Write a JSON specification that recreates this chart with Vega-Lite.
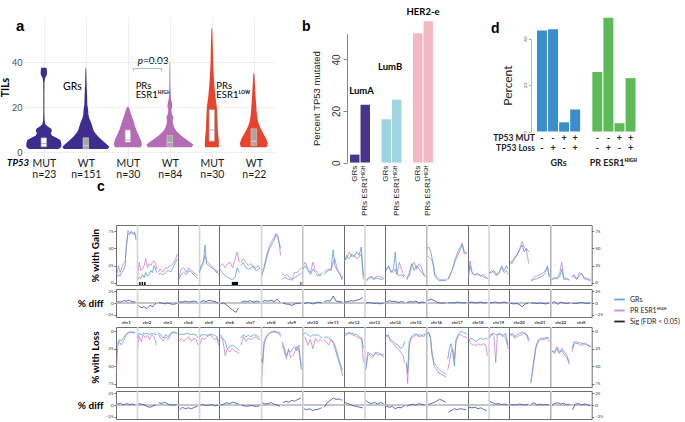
{
"$schema":"https://vega.github.io/schema/vega-lite/v6.json",
"background":"white",
"padding":{"left":0,"top":7,"right":2,"bottom":2},
"config":{"font":"Lato","view":{"stroke":null}},
"datasets":{
"vio":[
{"g":"GRs MUT","y":1.5,"w":30},{"g":"GRs MUT","y":2.5,"w":35},{"g":"GRs MUT","y":4,"w":35},{"g":"GRs MUT","y":5.5,"w":33},{"g":"GRs MUT","y":6.5,"w":25},{"g":"GRs MUT","y":7.5,"w":16},{"g":"GRs MUT","y":8.5,"w":14},{"g":"GRs MUT","y":9.5,"w":16},{"g":"GRs MUT","y":10.5,"w":15},{"g":"GRs MUT","y":11.5,"w":8},{"g":"GRs MUT","y":12.5,"w":3},{"g":"GRs MUT","y":14,"w":1.5},{"g":"GRs MUT","y":18,"w":1},{"g":"GRs MUT","y":25,"w":1},{"g":"GRs MUT","y":31,"w":1.2},{"g":"GRs MUT","y":33,"w":2.5},{"g":"GRs MUT","y":34,"w":5},{"g":"GRs MUT","y":35,"w":6.5},{"g":"GRs MUT","y":36.5,"w":6},{"g":"GRs MUT","y":37.5,"w":5},
{"g":"GRs WT","y":1.5,"w":44},{"g":"GRs WT","y":2.5,"w":47},{"g":"GRs WT","y":4,"w":40},{"g":"GRs WT","y":5.5,"w":32},{"g":"GRs WT","y":7,"w":25},{"g":"GRs WT","y":8.5,"w":19},{"g":"GRs WT","y":10,"w":15},{"g":"GRs WT","y":11.5,"w":13},{"g":"GRs WT","y":13,"w":11},{"g":"GRs WT","y":15,"w":7},{"g":"GRs WT","y":17,"w":5},{"g":"GRs WT","y":19,"w":4.5},{"g":"GRs WT","y":21,"w":3},{"g":"GRs WT","y":25,"w":2.5},{"g":"GRs WT","y":30,"w":1.5},{"g":"GRs WT","y":35,"w":1},{"g":"GRs WT","y":37.5,"w":0.5},
{"g":"PRH MUT","y":2.3,"w":26},{"g":"PRH MUT","y":3.5,"w":28},{"g":"PRH MUT","y":5,"w":27},{"g":"PRH MUT","y":6.5,"w":24},{"g":"PRH MUT","y":8,"w":21},{"g":"PRH MUT","y":10,"w":17},{"g":"PRH MUT","y":12,"w":14},{"g":"PRH MUT","y":14,"w":11},{"g":"PRH MUT","y":16,"w":8},{"g":"PRH MUT","y":18,"w":5},{"g":"PRH MUT","y":19.5,"w":3},{"g":"PRH MUT","y":20.3,"w":1},
{"g":"PRH WT","y":2.3,"w":44},{"g":"PRH WT","y":3.5,"w":47},{"g":"PRH WT","y":5,"w":38},{"g":"PRH WT","y":6.5,"w":28},{"g":"PRH WT","y":8,"w":20},{"g":"PRH WT","y":9.5,"w":13},{"g":"PRH WT","y":11,"w":9},{"g":"PRH WT","y":13,"w":6},{"g":"PRH WT","y":14.5,"w":6},{"g":"PRH WT","y":15.5,"w":7},{"g":"PRH WT","y":17,"w":4},{"g":"PRH WT","y":19,"w":3},{"g":"PRH WT","y":20.5,"w":5},{"g":"PRH WT","y":22,"w":4},{"g":"PRH WT","y":24,"w":2},{"g":"PRH WT","y":28,"w":1.2},{"g":"PRH WT","y":34,"w":0.8},{"g":"PRH WT","y":40,"w":0.5},
{"g":"PRL MUT","y":2.3,"w":14},{"g":"PRL MUT","y":5,"w":14},{"g":"PRL MUT","y":10,"w":12},{"g":"PRL MUT","y":15,"w":11},{"g":"PRL MUT","y":20,"w":10},{"g":"PRL MUT","y":25,"w":7},{"g":"PRL MUT","y":30,"w":5},{"g":"PRL MUT","y":35,"w":3.5},{"g":"PRL MUT","y":40,"w":2.5},{"g":"PRL MUT","y":47,"w":2},{"g":"PRL MUT","y":52,"w":1.2},{"g":"PRL MUT","y":55,"w":0.8},
{"g":"PRL WT","y":2.3,"w":26},{"g":"PRL WT","y":4,"w":28},{"g":"PRL WT","y":6,"w":25},{"g":"PRL WT","y":8,"w":20},{"g":"PRL WT","y":10,"w":15},{"g":"PRL WT","y":12,"w":11},{"g":"PRL WT","y":14,"w":8},{"g":"PRL WT","y":17,"w":6},{"g":"PRL WT","y":20,"w":5},{"g":"PRL WT","y":23,"w":4},{"g":"PRL WT","y":27,"w":3},{"g":"PRL WT","y":31,"w":2},{"g":"PRL WT","y":35,"w":1}
],
"box":[
{"g":"GRs MUT","q1":2.5,"med":4,"q3":6.5},{"g":"GRs WT","q1":1.5,"med":3,"q3":6.5},{"g":"PRH MUT","q1":4.5,"med":5.5,"q3":10},{"g":"PRH WT","q1":2.5,"med":4.5,"q3":7.5},{"g":"PRL MUT","q1":5,"med":10,"q3":19},{"g":"PRL WT","q1":3,"med":5,"q3":10.5}
],
"pb":[
{"key":"LumA GRs","sub":"LumA","grp":"GRs","v":3.1},{"key":"LumA PRs","sub":"LumA","grp":"PRs ESR1ᴴᴵᴳᴴ","v":22.4},{"key":"LumB GRs","sub":"LumB","grp":"GRs","v":16.8},{"key":"LumB PRs","sub":"LumB","grp":"PRs ESR1ᴴᴵᴳᴴ","v":24.4},{"key":"HER2 GRs","sub":"HER2-e","grp":"GRs","v":50.1},{"key":"HER2 PRs","sub":"HER2-e","grp":"PRs ESR1ᴴᴵᴳᴴ","v":54.8}
],
"pd":[
{"key":"GRs --","grp":"GRs","mut":"-","loss":"-","v":43.5},{"key":"GRs -+","grp":"GRs","mut":"-","loss":"+","v":44},{"key":"GRs +-","grp":"GRs","mut":"+","loss":"-","v":4},{"key":"GRs ++","grp":"GRs","mut":"+","loss":"+","v":9.5},
{"key":"PR --","grp":"PR ESR1ᴴᴵᴳᴴ","mut":"-","loss":"-","v":25.6},{"key":"PR -+","grp":"PR ESR1ᴴᴵᴳᴴ","mut":"-","loss":"+","v":49},{"key":"PR +-","grp":"PR ESR1ᴴᴵᴳᴴ","mut":"+","loss":"-","v":3.6},{"key":"PR ++","grp":"PR ESR1ᴴᴵᴳᴴ","mut":"+","loss":"+","v":23}
],
"gain":[
{"c":1,"x":0.04,"g":8,"p":12},{"c":1,"x":0.12,"g":12,"p":25},{"c":1,"x":0.2,"g":10,"p":15},{"c":1,"x":0.28,"g":15,"p":22},{"c":1,"x":0.36,"g":18,"p":28},{"c":1,"x":0.44,"g":25,"p":30},{"c":1,"x":0.5,"g":55,"p":50},{"c":1,"x":0.58,"g":72,"p":76},{"c":1,"x":0.66,"g":70,"p":72},{"c":1,"x":0.74,"g":75,"p":74},{"c":1,"x":0.82,"g":72,"p":70},{"c":1,"x":0.9,"g":74,"p":72},{"c":1,"x":0.97,"g":62,"p":66},
{"c":2,"x":1.04,"g":5,"p":8},{"c":2,"x":1.12,"g":8,"p":30},{"c":2,"x":1.2,"g":6,"p":18},{"c":2,"x":1.28,"g":12,"p":20},{"c":2,"x":1.36,"g":8,"p":25},{"c":2,"x":1.44,"g":15,"p":35},{"c":2,"x":1.52,"g":10,"p":22},{"c":2,"x":1.6,"g":12,"p":28},{"c":2,"x":1.68,"g":18,"p":25},{"c":2,"x":1.76,"g":15,"p":30},{"c":2,"x":1.84,"g":25,"p":32},{"c":2,"x":1.92,"g":20,"p":28},{"c":2,"x":1.97,"g":15,"p":20},
{"c":3,"x":2.04,"g":12,"p":15},{"c":3,"x":2.15,"g":14,"p":20},{"c":3,"x":2.28,"g":12,"p":16},{"c":3,"x":2.4,"g":15,"p":22},{"c":3,"x":2.52,"g":18,"p":22},{"c":3,"x":2.64,"g":16,"p":25},{"c":3,"x":2.76,"g":22,"p":28},{"c":3,"x":2.88,"g":30,"p":35},{"c":3,"x":2.96,"g":35,"p":42},
{"c":4,"x":3.04,"g":5,"p":8},{"c":4,"x":3.15,"g":12,"p":20},{"c":4,"x":3.28,"g":15,"p":22},{"c":4,"x":3.4,"g":12,"p":15},{"c":4,"x":3.52,"g":18,"p":22},{"c":4,"x":3.64,"g":16,"p":18},{"c":4,"x":3.76,"g":12,"p":15},{"c":4,"x":3.88,"g":8,"p":12},{"c":4,"x":3.96,"g":6,"p":10},
{"c":5,"x":4.04,"g":15,"p":18},{"c":5,"x":4.12,"g":25,"p":22},{"c":5,"x":4.22,"g":30,"p":28},{"c":5,"x":4.3,"g":55,"p":40},{"c":5,"x":4.38,"g":28,"p":32},{"c":5,"x":4.5,"g":25,"p":28},{"c":5,"x":4.62,"g":22,"p":25},{"c":5,"x":4.74,"g":20,"p":20},{"c":5,"x":4.86,"g":15,"p":18},{"c":5,"x":4.96,"g":18,"p":12},
{"c":6,"x":5.04,"g":20,"p":25},{"c":6,"x":5.15,"g":15,"p":28},{"c":6,"x":5.28,"g":10,"p":22},{"c":6,"x":5.4,"g":8,"p":28},{"c":6,"x":5.52,"g":6,"p":30},{"c":6,"x":5.64,"g":5,"p":22},{"c":6,"x":5.76,"g":8,"p":35},{"c":6,"x":5.86,"g":22,"p":45},{"c":6,"x":5.96,"g":15,"p":30},
{"c":7,"x":6.04,"g":25,"p":30},{"c":7,"x":6.15,"g":30,"p":35},{"c":7,"x":6.28,"g":22,"p":30},{"c":7,"x":6.4,"g":20,"p":25},{"c":7,"x":6.52,"g":22,"p":28},{"c":7,"x":6.64,"g":25,"p":22},{"c":7,"x":6.76,"g":18,"p":22},{"c":7,"x":6.88,"g":20,"p":25},{"c":7,"x":6.96,"g":22,"p":20},
{"c":8,"x":7.04,"g":12,"p":10},{"c":8,"x":7.15,"g":20,"p":22},{"c":8,"x":7.28,"g":35,"p":40},{"c":8,"x":7.4,"g":48,"p":52},{"c":8,"x":7.52,"g":55,"p":60},{"c":8,"x":7.64,"g":62,"p":66},{"c":8,"x":7.74,"g":70,"p":72},{"c":8,"x":7.84,"g":64,"p":68},{"c":8,"x":7.96,"g":50,"p":40},
{"c":9,"x":8.04,"g":5,"p":15},{"c":9,"x":8.15,"g":8,"p":10},{"c":9,"x":8.28,"g":6,"p":12},{"c":9,"x":8.4,"g":5,"p":8},{"c":9,"x":8.52,"g":4,"p":6},{"c":9,"x":8.64,"g":8,"p":15},{"c":9,"x":8.76,"g":10,"p":15},{"c":9,"x":8.88,"g":12,"p":20},{"c":9,"x":8.96,"g":15,"p":22},
{"c":10,"x":9.04,"g":20,"p":25},{"c":10,"x":9.15,"g":25,"p":30},{"c":10,"x":9.28,"g":18,"p":20},{"c":10,"x":9.4,"g":12,"p":15},{"c":10,"x":9.52,"g":20,"p":30},{"c":10,"x":9.64,"g":15,"p":18},{"c":10,"x":9.76,"g":10,"p":15},{"c":10,"x":9.88,"g":12,"p":10},{"c":10,"x":9.96,"g":15,"p":12},
{"c":11,"x":10.04,"g":12,"p":15},{"c":11,"x":10.15,"g":15,"p":18},{"c":11,"x":10.28,"g":18,"p":20},{"c":11,"x":10.4,"g":20,"p":18},{"c":11,"x":10.5,"g":48,"p":30},{"c":11,"x":10.58,"g":25,"p":35},{"c":11,"x":10.7,"g":18,"p":20},{"c":11,"x":10.82,"g":12,"p":15},{"c":11,"x":10.92,"g":8,"p":5},{"c":11,"x":10.97,"g":10,"p":8},
{"c":12,"x":11.04,"g":30,"p":35},{"c":12,"x":11.15,"g":40,"p":35},{"c":12,"x":11.28,"g":35,"p":45},{"c":12,"x":11.4,"g":42,"p":38},{"c":12,"x":11.52,"g":38,"p":40},{"c":12,"x":11.64,"g":45,"p":35},{"c":12,"x":11.76,"g":40,"p":38},{"c":12,"x":11.86,"g":52,"p":42},{"c":12,"x":11.96,"g":10,"p":5},
{"c":13,"x":12.1,"g":3,"p":4},{"c":13,"x":12.22,"g":6,"p":8},{"c":13,"x":12.34,"g":8,"p":10},{"c":13,"x":12.46,"g":5,"p":6},{"c":13,"x":12.58,"g":7,"p":9},{"c":13,"x":12.7,"g":6,"p":10},{"c":13,"x":12.82,"g":5,"p":8},{"c":13,"x":12.94,"g":6,"p":7},
{"c":14,"x":13.06,"g":18,"p":20},{"c":14,"x":13.18,"g":25,"p":22},{"c":14,"x":13.3,"g":15,"p":18},{"c":14,"x":13.42,"g":20,"p":15},{"c":14,"x":13.5,"g":45,"p":20},{"c":14,"x":13.58,"g":15,"p":12},{"c":14,"x":13.7,"g":10,"p":30},{"c":14,"x":13.82,"g":12,"p":18},{"c":14,"x":13.94,"g":8,"p":10},
{"c":15,"x":14.06,"g":5,"p":5},{"c":15,"x":14.18,"g":15,"p":10},{"c":15,"x":14.3,"g":28,"p":25},{"c":15,"x":14.42,"g":18,"p":30},{"c":15,"x":14.54,"g":25,"p":20},{"c":15,"x":14.66,"g":20,"p":28},{"c":15,"x":14.78,"g":15,"p":22},{"c":15,"x":14.9,"g":12,"p":10},{"c":15,"x":14.97,"g":10,"p":8},
{"c":16,"x":15.04,"g":50,"p":40},{"c":16,"x":15.12,"g":52,"p":38},{"c":16,"x":15.22,"g":45,"p":35},{"c":16,"x":15.32,"g":30,"p":30},{"c":16,"x":15.42,"g":10,"p":12},{"c":16,"x":15.54,"g":5,"p":8},{"c":16,"x":15.66,"g":3,"p":5},{"c":16,"x":15.78,"g":4,"p":4},{"c":16,"x":15.9,"g":3,"p":5},{"c":16,"x":15.97,"g":4,"p":6},
{"c":17,"x":16.04,"g":5,"p":5},{"c":17,"x":16.15,"g":12,"p":10},{"c":17,"x":16.28,"g":20,"p":22},{"c":17,"x":16.4,"g":32,"p":35},{"c":17,"x":16.52,"g":40,"p":45},{"c":17,"x":16.64,"g":48,"p":52},{"c":17,"x":16.74,"g":55,"p":58},{"c":17,"x":16.84,"g":42,"p":46},{"c":17,"x":16.96,"g":45,"p":42},
{"c":18,"x":17.04,"g":10,"p":8},{"c":18,"x":17.12,"g":25,"p":32},{"c":18,"x":17.22,"g":15,"p":14},{"c":18,"x":17.34,"g":12,"p":12},{"c":18,"x":17.48,"g":14,"p":12},{"c":18,"x":17.62,"g":10,"p":11},{"c":18,"x":17.76,"g":12,"p":9},{"c":18,"x":17.9,"g":8,"p":7},{"c":18,"x":17.97,"g":7,"p":6},
{"c":19,"x":18.04,"g":15,"p":12},{"c":19,"x":18.15,"g":15,"p":18},{"c":19,"x":18.28,"g":18,"p":15},{"c":19,"x":18.4,"g":12,"p":10},{"c":19,"x":18.52,"g":14,"p":16},{"c":19,"x":18.64,"g":25,"p":22},{"c":19,"x":18.76,"g":18,"p":15},{"c":19,"x":18.88,"g":25,"p":18},{"c":19,"x":18.96,"g":20,"p":12},
{"c":20,"x":19.04,"g":28,"p":30},{"c":20,"x":19.15,"g":32,"p":28},{"c":20,"x":19.28,"g":35,"p":38},{"c":20,"x":19.4,"g":42,"p":40},{"c":20,"x":19.52,"g":48,"p":50},{"c":20,"x":19.64,"g":55,"p":60},{"c":20,"x":19.74,"g":45,"p":52},{"c":20,"x":19.84,"g":50,"p":48},{"c":20,"x":19.96,"g":45,"p":28},
{"c":21,"x":20.06,"g":3,"p":4},{"c":21,"x":20.2,"g":5,"p":8},{"c":21,"x":20.34,"g":6,"p":10},{"c":21,"x":20.48,"g":8,"p":12},{"c":21,"x":20.62,"g":10,"p":14},{"c":21,"x":20.76,"g":15,"p":18},{"c":21,"x":20.86,"g":25,"p":22},{"c":21,"x":20.95,"g":8,"p":10},
{"c":22,"x":21.06,"g":5,"p":5},{"c":22,"x":21.2,"g":8,"p":6},{"c":22,"x":21.34,"g":6,"p":8},{"c":22,"x":21.46,"g":10,"p":15},{"c":22,"x":21.55,"g":20,"p":30},{"c":22,"x":21.65,"g":5,"p":8},{"c":22,"x":21.78,"g":6,"p":6},{"c":22,"x":21.92,"g":4,"p":5},
{"c":23,"x":22.04,"g":8,"p":10},{"c":23,"x":22.15,"g":12,"p":8},{"c":23,"x":22.28,"g":5,"p":6},{"c":23,"x":22.4,"g":10,"p":15},{"c":23,"x":22.52,"g":14,"p":12},{"c":23,"x":22.64,"g":6,"p":8},{"c":23,"x":22.76,"g":5,"p":6},{"c":23,"x":22.88,"g":4,"p":6},{"c":23,"x":22.96,"g":3,"p":5}
],
"loss":[
{"c":1,"x":0.02,"g":20,"p":60},{"c":1,"x":0.08,"g":18,"p":22},{"c":1,"x":0.16,"g":12,"p":15},{"c":1,"x":0.26,"g":14,"p":20},{"c":1,"x":0.36,"g":10,"p":14},{"c":1,"x":0.46,"g":5,"p":8},{"c":1,"x":0.56,"g":2,"p":3},{"c":1,"x":0.68,"g":1,"p":2},{"c":1,"x":0.8,"g":1,"p":2},{"c":1,"x":0.92,"g":2,"p":3},
{"c":2,"x":1.04,"g":10,"p":25},{"c":2,"x":1.12,"g":3,"p":8},{"c":2,"x":1.22,"g":5,"p":15},{"c":2,"x":1.32,"g":3,"p":5},{"c":2,"x":1.42,"g":4,"p":10},{"c":2,"x":1.52,"g":3,"p":6},{"c":2,"x":1.62,"g":5,"p":12},{"c":2,"x":1.72,"g":3,"p":5},{"c":2,"x":1.84,"g":4,"p":8},{"c":2,"x":1.96,"g":5,"p":20},
{"c":3,"x":2.04,"g":2,"p":4},{"c":3,"x":2.16,"g":5,"p":10},{"c":3,"x":2.28,"g":10,"p":14},{"c":3,"x":2.4,"g":5,"p":8},{"c":3,"x":2.52,"g":8,"p":12},{"c":3,"x":2.64,"g":3,"p":5},{"c":3,"x":2.76,"g":1,"p":2},{"c":3,"x":2.88,"g":2,"p":3},{"c":3,"x":2.96,"g":3,"p":4},
{"c":4,"x":3.04,"g":5,"p":15},{"c":4,"x":3.16,"g":4,"p":10},{"c":4,"x":3.28,"g":5,"p":14},{"c":4,"x":3.4,"g":3,"p":12},{"c":4,"x":3.52,"g":4,"p":8},{"c":4,"x":3.64,"g":5,"p":15},{"c":4,"x":3.76,"g":4,"p":10},{"c":4,"x":3.88,"g":6,"p":12},{"c":4,"x":3.96,"g":10,"p":20},
{"c":5,"x":4.04,"g":8,"p":20},{"c":5,"x":4.16,"g":5,"p":10},{"c":5,"x":4.28,"g":5,"p":12},{"c":5,"x":4.4,"g":6,"p":8},{"c":5,"x":4.52,"g":5,"p":6},{"c":5,"x":4.64,"g":4,"p":7},{"c":5,"x":4.76,"g":6,"p":12},{"c":5,"x":4.88,"g":8,"p":10},{"c":5,"x":4.96,"g":15,"p":20},
{"c":6,"x":5.04,"g":5,"p":8},{"c":6,"x":5.16,"g":10,"p":12},{"c":6,"x":5.28,"g":15,"p":35},{"c":6,"x":5.38,"g":25,"p":25},{"c":6,"x":5.5,"g":22,"p":30},{"c":6,"x":5.62,"g":20,"p":25},{"c":6,"x":5.74,"g":22,"p":28},{"c":6,"x":5.86,"g":25,"p":30},{"c":6,"x":5.96,"g":28,"p":32},
{"c":7,"x":6.04,"g":10,"p":20},{"c":7,"x":6.16,"g":5,"p":8},{"c":7,"x":6.28,"g":8,"p":15},{"c":7,"x":6.4,"g":6,"p":10},{"c":7,"x":6.52,"g":8,"p":12},{"c":7,"x":6.64,"g":5,"p":10},{"c":7,"x":6.76,"g":6,"p":8},{"c":7,"x":6.88,"g":8,"p":12},{"c":7,"x":6.96,"g":10,"p":12},
{"c":8,"x":7.03,"g":40,"p":75},{"c":8,"x":7.08,"g":45,"p":55},{"c":8,"x":7.16,"g":15,"p":20},{"c":8,"x":7.26,"g":8,"p":10},{"c":8,"x":7.36,"g":4,"p":5},{"c":8,"x":7.5,"g":1,"p":2},{"c":8,"x":7.64,"g":0,"p":1},{"c":8,"x":7.78,"g":1,"p":2},{"c":8,"x":7.9,"g":2,"p":4},{"c":8,"x":7.97,"g":5,"p":8},
{"c":9,"x":8.04,"g":15,"p":20},{"c":9,"x":8.14,"g":25,"p":30},{"c":9,"x":8.24,"g":35,"p":40},{"c":9,"x":8.34,"g":28,"p":25},{"c":9,"x":8.44,"g":30,"p":38},{"c":9,"x":8.54,"g":25,"p":35},{"c":9,"x":8.64,"g":22,"p":30},{"c":9,"x":8.74,"g":28,"p":22},{"c":9,"x":8.84,"g":20,"p":28},{"c":9,"x":8.96,"g":55,"p":50},
{"c":10,"x":9.04,"g":5,"p":8},{"c":10,"x":9.16,"g":2,"p":10},{"c":10,"x":9.28,"g":5,"p":20},{"c":10,"x":9.4,"g":8,"p":12},{"c":10,"x":9.52,"g":5,"p":25},{"c":10,"x":9.64,"g":6,"p":10},{"c":10,"x":9.76,"g":5,"p":15},{"c":10,"x":9.88,"g":8,"p":12},{"c":10,"x":9.96,"g":10,"p":15},
{"c":11,"x":10.04,"g":10,"p":12},{"c":11,"x":10.16,"g":8,"p":15},{"c":11,"x":10.28,"g":10,"p":20},{"c":11,"x":10.4,"g":12,"p":12},{"c":11,"x":10.52,"g":18,"p":15},{"c":11,"x":10.64,"g":30,"p":25},{"c":11,"x":10.76,"g":42,"p":38},{"c":11,"x":10.86,"g":52,"p":48},{"c":11,"x":10.96,"g":64,"p":56},
{"c":12,"x":11.04,"g":5,"p":8},{"c":12,"x":11.16,"g":3,"p":5},{"c":12,"x":11.28,"g":2,"p":3},{"c":12,"x":11.4,"g":3,"p":5},{"c":12,"x":11.52,"g":4,"p":6},{"c":12,"x":11.64,"g":5,"p":8},{"c":12,"x":11.76,"g":8,"p":10},{"c":12,"x":11.88,"g":10,"p":12},{"c":12,"x":11.96,"g":25,"p":45},
{"c":13,"x":12.08,"g":55,"p":50},{"c":13,"x":12.18,"g":35,"p":30},{"c":13,"x":12.3,"g":32,"p":35},{"c":13,"x":12.42,"g":35,"p":38},{"c":13,"x":12.54,"g":32,"p":30},{"c":13,"x":12.66,"g":30,"p":35},{"c":13,"x":12.78,"g":34,"p":32},{"c":13,"x":12.9,"g":36,"p":34},{"c":13,"x":12.97,"g":38,"p":33},
{"c":14,"x":13.04,"g":5,"p":8},{"c":14,"x":13.16,"g":8,"p":5},{"c":14,"x":13.28,"g":12,"p":15},{"c":14,"x":13.4,"g":15,"p":18},{"c":14,"x":13.52,"g":18,"p":22},{"c":14,"x":13.64,"g":20,"p":25},{"c":14,"x":13.76,"g":25,"p":30},{"c":14,"x":13.88,"g":22,"p":35},{"c":14,"x":13.96,"g":15,"p":45},
{"c":15,"x":14.04,"g":45,"p":45},{"c":15,"x":14.1,"g":60,"p":75},{"c":15,"x":14.18,"g":15,"p":20},{"c":15,"x":14.28,"g":8,"p":10},{"c":15,"x":14.4,"g":5,"p":8},{"c":15,"x":14.52,"g":4,"p":5},{"c":15,"x":14.64,"g":6,"p":8},{"c":15,"x":14.76,"g":5,"p":7},{"c":15,"x":14.88,"g":8,"p":5},{"c":15,"x":14.97,"g":4,"p":3},
{"c":16,"x":15.04,"g":3,"p":5},{"c":16,"x":15.12,"g":2,"p":2},{"c":16,"x":15.2,"g":8,"p":10},{"c":16,"x":15.28,"g":30,"p":35},{"c":16,"x":15.38,"g":50,"p":45},{"c":16,"x":15.5,"g":55,"p":50},{"c":16,"x":15.62,"g":60,"p":55},{"c":16,"x":15.74,"g":62,"p":58},{"c":16,"x":15.86,"g":64,"p":60},{"c":16,"x":15.96,"g":66,"p":62},
{"c":17,"x":16.04,"g":40,"p":55},{"c":17,"x":16.12,"g":25,"p":45},{"c":17,"x":16.2,"g":18,"p":30},{"c":17,"x":16.28,"g":30,"p":25},{"c":17,"x":16.36,"g":50,"p":40},{"c":17,"x":16.44,"g":12,"p":15},{"c":17,"x":16.56,"g":4,"p":6},{"c":17,"x":16.68,"g":0,"p":5},{"c":17,"x":16.8,"g":2,"p":8},{"c":17,"x":16.92,"g":3,"p":8},{"c":17,"x":16.97,"g":5,"p":10},
{"c":18,"x":17.04,"g":15,"p":10},{"c":18,"x":17.16,"g":10,"p":18},{"c":18,"x":17.28,"g":12,"p":20},{"c":18,"x":17.4,"g":15,"p":20},{"c":18,"x":17.52,"g":12,"p":18},{"c":18,"x":17.64,"g":10,"p":20},{"c":18,"x":17.76,"g":12,"p":18},{"c":18,"x":17.88,"g":10,"p":20},{"c":18,"x":17.96,"g":12,"p":35},
{"c":19,"x":18.04,"g":10,"p":8},{"c":19,"x":18.16,"g":5,"p":3},{"c":19,"x":18.28,"g":3,"p":8},{"c":19,"x":18.36,"g":5,"p":45},{"c":19,"x":18.44,"g":5,"p":5},{"c":19,"x":18.56,"g":3,"p":4},{"c":19,"x":18.7,"g":8,"p":5},{"c":19,"x":18.84,"g":3,"p":10},{"c":19,"x":18.96,"g":20,"p":25},
{"c":20,"x":19.04,"g":5,"p":5},{"c":20,"x":19.16,"g":3,"p":6},{"c":20,"x":19.28,"g":8,"p":10},{"c":20,"x":19.4,"g":5,"p":8},{"c":20,"x":19.52,"g":3,"p":6},{"c":20,"x":19.64,"g":2,"p":5},{"c":20,"x":19.76,"g":3,"p":2},{"c":20,"x":19.88,"g":5,"p":8},{"c":20,"x":19.96,"g":12,"p":15},
{"c":21,"x":20.06,"g":75,"p":72},{"c":21,"x":20.18,"g":45,"p":50},{"c":21,"x":20.3,"g":22,"p":25},{"c":21,"x":20.42,"g":12,"p":15},{"c":21,"x":20.56,"g":10,"p":12},{"c":21,"x":20.7,"g":10,"p":12},{"c":21,"x":20.84,"g":9,"p":10},{"c":21,"x":20.95,"g":10,"p":15},
{"c":22,"x":21.08,"g":28,"p":28},{"c":22,"x":21.2,"g":30,"p":32},{"c":22,"x":21.32,"g":25,"p":22},{"c":22,"x":21.44,"g":32,"p":30},{"c":22,"x":21.56,"g":25,"p":28},{"c":22,"x":21.68,"g":30,"p":34},{"c":22,"x":21.8,"g":35,"p":38},{"c":22,"x":21.92,"g":45,"p":48},
{"c":23,"x":22.04,"g":25,"p":30},{"c":23,"x":22.16,"g":15,"p":18},{"c":23,"x":22.28,"g":18,"p":15},{"c":23,"x":22.4,"g":16,"p":20},{"c":23,"x":22.52,"g":18,"p":20},{"c":23,"x":22.64,"g":17,"p":19},{"c":23,"x":22.76,"g":20,"p":18},{"c":23,"x":22.88,"g":21,"p":22},{"c":23,"x":22.96,"g":22,"p":22}
],
"diff":[
{"c":1,"x":0.07,"d1":3,"d2":2},{"c":1,"x":0.21,"d1":2,"d2":4},{"c":1,"x":0.36,"d1":5,"d2":0},{"c":1,"x":0.5,"d1":4,"d2":3},{"c":1,"x":0.64,"d1":6,"d2":1},{"c":1,"x":0.79,"d1":2,"d2":2},{"c":1,"x":0.93,"d1":3,"d2":0},
{"c":2,"x":1.07,"d1":-5,"d2":3},{"c":2,"x":1.21,"d1":-10,"d2":2},{"c":2,"x":1.36,"d1":-8,"d2":0},{"c":2,"x":1.5,"d1":-12,"d2":-3},{"c":2,"x":1.64,"d1":-5,"d2":-5},{"c":2,"x":1.79,"d1":-8,"d2":-2},{"c":2,"x":1.93,"d1":0,"d2":0},
{"c":3,"x":2.07,"d1":1,"d2":5},{"c":3,"x":2.21,"d1":0,"d2":3},{"c":3,"x":2.36,"d1":-2,"d2":6},{"c":3,"x":2.5,"d1":0,"d2":2},{"c":3,"x":2.64,"d1":-2,"d2":0},{"c":3,"x":2.79,"d1":-3,"d2":0},{"c":3,"x":2.93,"d1":-1,"d2":1},
{"c":4,"x":3.07,"d1":3,"d2":-10},{"c":4,"x":3.21,"d1":2,"d2":-5},{"c":4,"x":3.36,"d1":4,"d2":-8},{"c":4,"x":3.5,"d1":2,"d2":-6},{"c":4,"x":3.64,"d1":3,"d2":-8},{"c":4,"x":3.79,"d1":4,"d2":-5},{"c":4,"x":3.93,"d1":2,"d2":-3},
{"c":5,"x":4.07,"d1":2,"d2":0},{"c":5,"x":4.21,"d1":5,"d2":1},{"c":5,"x":4.36,"d1":3,"d2":-1},{"c":5,"x":4.5,"d1":6,"d2":0},{"c":5,"x":4.64,"d1":4,"d2":1},{"c":5,"x":4.79,"d1":3,"d2":-2},{"c":5,"x":4.93,"d1":0,"d2":0},
{"c":6,"x":5.07,"d1":-2,"d2":0},{"c":6,"x":5.21,"d1":0,"d2":2},{"c":6,"x":5.36,"d1":-5,"d2":5},{"c":6,"x":5.5,"d1":-10,"d2":3},{"c":6,"x":5.64,"d1":-15,"d2":6},{"c":6,"x":5.79,"d1":-20,"d2":4},{"c":6,"x":5.93,"d1":-10,"d2":2},
{"c":7,"x":6.07,"d1":2,"d2":0},{"c":7,"x":6.21,"d1":4,"d2":-2},{"c":7,"x":6.36,"d1":3,"d2":-3},{"c":7,"x":6.5,"d1":5,"d2":-1},{"c":7,"x":6.64,"d1":2,"d2":-2},{"c":7,"x":6.79,"d1":4,"d2":-3},{"c":7,"x":6.93,"d1":3,"d2":-2},
{"c":8,"x":7.07,"d1":3,"d2":5},{"c":8,"x":7.21,"d1":5,"d2":2},{"c":8,"x":7.36,"d1":4,"d2":3},{"c":8,"x":7.5,"d1":6,"d2":5},{"c":8,"x":7.64,"d1":3,"d2":2},{"c":8,"x":7.79,"d1":8,"d2":0},{"c":8,"x":7.93,"d1":2,"d2":-3},
{"c":9,"x":8.07,"d1":0,"d2":5},{"c":9,"x":8.21,"d1":-2,"d2":8},{"c":9,"x":8.36,"d1":-3,"d2":6},{"c":9,"x":8.5,"d1":-5,"d2":10},{"c":9,"x":8.64,"d1":-2,"d2":8},{"c":9,"x":8.79,"d1":-1,"d2":12},{"c":9,"x":8.93,"d1":0,"d2":15},
{"c":10,"x":9.07,"d1":-1,"d2":-8},{"c":10,"x":9.21,"d1":0,"d2":-10},{"c":10,"x":9.36,"d1":1,"d2":-8},{"c":10,"x":9.5,"d1":-2,"d2":-12},{"c":10,"x":9.64,"d1":0,"d2":-10},{"c":10,"x":9.79,"d1":2,"d2":-9},{"c":10,"x":9.93,"d1":0,"d2":-6},
{"c":11,"x":10.07,"d1":3,"d2":-5},{"c":11,"x":10.21,"d1":5,"d2":5},{"c":11,"x":10.36,"d1":4,"d2":10},{"c":11,"x":10.5,"d1":15,"d2":15},{"c":11,"x":10.64,"d1":4,"d2":12},{"c":11,"x":10.79,"d1":3,"d2":13},{"c":11,"x":10.93,"d1":2,"d2":10},
{"c":12,"x":11.07,"d1":2,"d2":5},{"c":12,"x":11.21,"d1":3,"d2":3},{"c":12,"x":11.36,"d1":5,"d2":0},{"c":12,"x":11.5,"d1":4,"d2":-2},{"c":12,"x":11.64,"d1":6,"d2":-3},{"c":12,"x":11.79,"d1":8,"d2":-5},{"c":12,"x":11.93,"d1":12,"d2":-6},
{"c":13,"x":12.07,"d1":0,"d2":10},{"c":13,"x":12.21,"d1":1,"d2":5},{"c":13,"x":12.36,"d1":0,"d2":3},{"c":13,"x":12.5,"d1":-1,"d2":6},{"c":13,"x":12.64,"d1":0,"d2":2},{"c":13,"x":12.79,"d1":-2,"d2":5},{"c":13,"x":12.93,"d1":0,"d2":3},
{"c":14,"x":13.07,"d1":2,"d2":-2},{"c":14,"x":13.21,"d1":5,"d2":-5},{"c":14,"x":13.36,"d1":3,"d2":-3},{"c":14,"x":13.5,"d1":4,"d2":-8},{"c":14,"x":13.64,"d1":1,"d2":-5},{"c":14,"x":13.79,"d1":3,"d2":-6},{"c":14,"x":13.93,"d1":2,"d2":-2},
{"c":15,"x":14.07,"d1":1,"d2":-3},{"c":15,"x":14.21,"d1":3,"d2":0},{"c":15,"x":14.36,"d1":2,"d2":2},{"c":15,"x":14.5,"d1":4,"d2":-1},{"c":15,"x":14.64,"d1":0,"d2":3},{"c":15,"x":14.79,"d1":2,"d2":1},{"c":15,"x":14.93,"d1":1,"d2":0},
{"c":16,"x":15.07,"d1":5,"d2":0},{"c":16,"x":15.21,"d1":8,"d2":3},{"c":16,"x":15.36,"d1":6,"d2":5},{"c":16,"x":15.5,"d1":2,"d2":8},{"c":16,"x":15.64,"d1":0,"d2":12},{"c":16,"x":15.79,"d1":0,"d2":10},{"c":16,"x":15.93,"d1":0,"d2":6},
{"c":17,"x":16.07,"d1":0,"d2":-15},{"c":17,"x":16.21,"d1":1,"d2":-12},{"c":17,"x":16.36,"d1":0,"d2":-8},{"c":17,"x":16.5,"d1":2,"d2":-10},{"c":17,"x":16.64,"d1":1,"d2":-8},{"c":17,"x":16.79,"d1":0,"d2":-9},{"c":17,"x":16.93,"d1":1,"d2":-10},
{"c":18,"x":17.07,"d1":1,"d2":-5},{"c":18,"x":17.21,"d1":2,"d2":-6},{"c":18,"x":17.36,"d1":0,"d2":-5},{"c":18,"x":17.5,"d1":1,"d2":-8},{"c":18,"x":17.64,"d1":2,"d2":-6},{"c":18,"x":17.79,"d1":0,"d2":-10},{"c":18,"x":17.93,"d1":1,"d2":-12},
{"c":19,"x":18.07,"d1":0,"d2":8},{"c":19,"x":18.21,"d1":1,"d2":5},{"c":19,"x":18.36,"d1":2,"d2":2},{"c":19,"x":18.5,"d1":0,"d2":3},{"c":19,"x":18.64,"d1":1,"d2":1},{"c":19,"x":18.79,"d1":2,"d2":2},{"c":19,"x":18.93,"d1":0,"d2":0},
{"c":20,"x":19.07,"d1":0,"d2":0},{"c":20,"x":19.21,"d1":-2,"d2":1},{"c":20,"x":19.36,"d1":-1,"d2":0},{"c":20,"x":19.5,"d1":-3,"d2":2},{"c":20,"x":19.64,"d1":-8,"d2":1},{"c":20,"x":19.79,"d1":-2,"d2":0},{"c":20,"x":19.93,"d1":0,"d2":2},
{"c":21,"x":20.07,"d1":0,"d2":2},{"c":21,"x":20.21,"d1":0,"d2":5},{"c":21,"x":20.36,"d1":-1,"d2":0},{"c":21,"x":20.5,"d1":0,"d2":2},{"c":21,"x":20.64,"d1":-1,"d2":0},{"c":21,"x":20.79,"d1":-2,"d2":1},{"c":21,"x":20.93,"d1":0,"d2":0},
{"c":22,"x":21.07,"d1":0,"d2":0},{"c":22,"x":21.21,"d1":3,"d2":3},{"c":22,"x":21.36,"d1":-3,"d2":5},{"c":22,"x":21.5,"d1":2,"d2":2},{"c":22,"x":21.64,"d1":0,"d2":4},{"c":22,"x":21.79,"d1":-1,"d2":0},{"c":22,"x":21.93,"d1":0,"d2":2},
{"c":23,"x":22.07,"d1":0,"d2":-10},{"c":23,"x":22.21,"d1":-1,"d2":2},{"c":23,"x":22.36,"d1":0,"d2":3},{"c":23,"x":22.5,"d1":1,"d2":0},{"c":23,"x":22.64,"d1":0,"d2":2},{"c":23,"x":22.79,"d1":-1,"d2":1},{"c":23,"x":22.93,"d1":0,"d2":-2}
],
"sig":[{"s":1.12,"e":1.19},{"s":1.24,"e":1.31},{"s":1.36,"e":1.43},{"s":5.6,"e":5.9},{"s":8.92,"e":8.96}],
"strip":[{"s":1,"e":1.08},{"s":4,"e":4.08},{"s":7,"e":7.08},{"s":9,"e":9.08},{"s":12,"e":12.08},{"s":15,"e":15.08},{"s":18,"e":18.08},{"s":21,"e":21.08}],
"chroms":[{"chr":"chr1","mid":0.5},{"chr":"chr2","mid":1.5},{"chr":"chr3","mid":2.5},{"chr":"chr4","mid":3.5},{"chr":"chr5","mid":4.5},{"chr":"chr6","mid":5.5},{"chr":"chr7","mid":6.5},{"chr":"chr8","mid":7.5},{"chr":"chr9","mid":8.5},{"chr":"chr10","mid":9.5},{"chr":"chr11","mid":10.5},{"chr":"chr12","mid":11.5},{"chr":"chr13","mid":12.5},{"chr":"chr14","mid":13.5},{"chr":"chr15","mid":14.5},{"chr":"chr16","mid":15.5},{"chr":"chr17","mid":16.5},{"chr":"chr18","mid":17.5},{"chr":"chr19","mid":18.5},{"chr":"chr20","mid":19.5},{"chr":"chr21","mid":20.5},{"chr":"chr22","mid":21.5},{"chr":"chrX","mid":22.5}]
},
"spacing":-38,
"resolve":{"scale":{"color":"independent"},"legend":{"color":"independent"}},
"vconcat":[
{
"hconcat":[
   {"width":41.67,"height":140,"layer":[
    {"data":{"name":"vio"},"transform":[{"filter":"datum.g === 'GRs MUT'"}],"mark":{"type":"area","orient":"horizontal","color":"#3e2c8e"},
     "encoding":{"y":{"field":"y","type":"quantitative","scale":{"domain":[-2,60],"nice":false,"zero":false},"axis":{"values":[0,10,20,30,40,50],"labelExpr":"datum.value % 20 === 0 ? datum.label : ''","grid":true,"gridColor":"#ebebeb","gridWidth":0.8,"ticks":false,"domain":false,"labelFontSize":9,"labelColor":"#4d4d4d","labelPadding":1,"title":"TILs","titleFontSize":10.5,"titleFontWeight":"bold","titleColor":"#000000","titlePadding":1}},
      "x":{"field":"w","type":"quantitative","stack":"center","impute":null,"scale":{"domain":[-3.33,38.33],"nice":false,"zero":false},"axis":{"values":[17.5],"grid":true,"gridColor":"#ebebeb","gridWidth":0.8,"labels":false,"ticks":false,"domain":false,"title":["MUT","n=23"],"titleFontSize":10.5,"titleFontWeight":"normal","titleColor":"#1a1a1a","titlePadding":1,"titleLineHeight":11}}}},
    {"data":{"name":"box"},"transform":[{"filter":"datum.g === 'GRs MUT'"}],"mark":{"type":"rect","fill":"#ffffff","stroke":"#9a9a9a","strokeWidth":0.6},"encoding":{"x":{"datum":14.7},"x2":{"datum":20.3},"y":{"field":"q1","type":"quantitative"},"y2":{"field":"q3"}}},
    {"data":{"name":"box"},"transform":[{"filter":"datum.g === 'GRs MUT'"}],"mark":{"type":"rule","color":"#a0a0a0","strokeWidth":0.8},"encoding":{"x":{"datum":14.7},"x2":{"datum":20.3},"y":{"field":"med","type":"quantitative"}}},
    {"data":{"values":[{}]},"mark":{"type":"text","text":"a","fontSize":15,"fontWeight":"bold","align":"left","baseline":"alphabetic","font":"Liberation Sans"},"encoding":{"x":{"datum":-10.3},"y":{"datum":54}}},
    {"data":{"values":[{}]},"mark":{"type":"text","text":"TP53","fontSize":9.5,"fontWeight":"bold","fontStyle":"italic","align":"center","baseline":"middle"},"encoding":{"x":{"datum":-8.3},"y":{"datum":-4.6}}},
    {"data":{"values":[{}]},"mark":{"type":"text","text":"GRs","fontSize":10.5,"align":"left","baseline":"middle"},"encoding":{"x":{"datum":36.7},"y":{"datum":29.2}}}
   ]},
   {"width":41.67,"height":140,"layer":[
    {"data":{"name":"vio"},"transform":[{"filter":"datum.g === 'GRs WT'"}],"mark":{"type":"area","orient":"horizontal","color":"#3e2c8e"},
     "encoding":{"y":{"field":"y","type":"quantitative","scale":{"domain":[-2,60],"nice":false,"zero":false},"axis":{"values":[0,10,20,30,40,50],"grid":true,"gridColor":"#ebebeb","gridWidth":0.8,"ticks":false,"domain":false,"labels":false,"title":null}},
      "x":{"field":"w","type":"quantitative","stack":"center","impute":null,"scale":{"domain":[2.67,44.33],"nice":false,"zero":false},"axis":{"values":[23.5],"grid":true,"gridColor":"#ebebeb","gridWidth":0.8,"labels":false,"ticks":false,"domain":false,"title":["WT","n=151"],"titleFontSize":10.5,"titleFontWeight":"normal","titleColor":"#1a1a1a","titlePadding":1,"titleLineHeight":11}}}},
    {"data":{"name":"box"},"transform":[{"filter":"datum.g === 'GRs WT'"}],"mark":{"type":"rect","fill":"#a6a6a6","stroke":"#d0d0d0","strokeWidth":0.6},"encoding":{"x":{"datum":20.7},"x2":{"datum":26.3},"y":{"field":"q1","type":"quantitative"},"y2":{"field":"q3"}}},
    {"data":{"name":"box"},"transform":[{"filter":"datum.g === 'GRs WT'"}],"mark":{"type":"rule","color":"#e6e6e6","strokeWidth":0.8},"encoding":{"x":{"datum":20.7},"x2":{"datum":26.3},"y":{"field":"med","type":"quantitative"}}}
   ]},
   {"width":41.67,"height":140,"layer":[
    {"data":{"name":"vio"},"transform":[{"filter":"datum.g === 'PRH MUT'"}],"mark":{"type":"area","orient":"horizontal","color":"#b46cb7"},
     "encoding":{"y":{"field":"y","type":"quantitative","scale":{"domain":[-2,60],"nice":false,"zero":false},"axis":{"values":[0,10,20,30,40,50],"grid":true,"gridColor":"#ebebeb","gridWidth":0.8,"ticks":false,"domain":false,"labels":false,"title":null}},
      "x":{"field":"w","type":"quantitative","stack":"center","impute":null,"scale":{"domain":[-6.83,34.83],"nice":false,"zero":false},"axis":{"values":[14],"grid":true,"gridColor":"#ebebeb","gridWidth":0.8,"labels":false,"ticks":false,"domain":false,"title":["MUT","n=30"],"titleFontSize":10.5,"titleFontWeight":"normal","titleColor":"#1a1a1a","titlePadding":1,"titleLineHeight":11}}}},
    {"data":{"name":"box"},"transform":[{"filter":"datum.g === 'PRH MUT'"}],"mark":{"type":"rect","fill":"#ffffff","stroke":"#9a9a9a","strokeWidth":0.6},"encoding":{"x":{"datum":11.2},"x2":{"datum":16.8},"y":{"field":"q1","type":"quantitative"},"y2":{"field":"q3"}}},
    {"data":{"name":"box"},"transform":[{"filter":"datum.g === 'PRH MUT'"}],"mark":{"type":"rule","color":"#a0a0a0","strokeWidth":0.8},"encoding":{"x":{"datum":11.2},"x2":{"datum":16.8},"y":{"field":"med","type":"quantitative"}}},
    {"data":{"values":[{}]},"mark":{"type":"text","text":"PRs","fontSize":9.5,"align":"left","baseline":"middle"},"encoding":{"x":{"datum":21.8},"y":{"datum":29.45}}},
    {"data":{"values":[{}]},"mark":{"type":"text","text":"ESR1ᴴᴵᴳᴴ","fontSize":9.5,"align":"left","baseline":"middle"},"encoding":{"x":{"datum":21.8},"y":{"datum":25.24}}},
    {"data":{"values":[{}]},"mark":{"type":"text","text":"p","fontSize":10,"fontStyle":"italic","align":"right","baseline":"middle"},"encoding":{"x":{"datum":29.1},"y":{"datum":40.7}}},
    {"data":{"values":[{}]},"mark":{"type":"text","text":"=0.03","fontSize":10,"align":"left","baseline":"middle"},"encoding":{"x":{"datum":29.1},"y":{"datum":40.7}}},
    {"data":{"values":[{}]},"mark":{"type":"rule","color":"#a8bad3","strokeWidth":1},"encoding":{"x":{"datum":19.8},"x2":{"datum":47.8},"y":{"datum":37.2}}},
    {"data":{"values":[{}]},"mark":{"type":"rule","color":"#a8bad3","strokeWidth":1},"encoding":{"x":{"datum":19.8},"y":{"datum":37.2},"y2":{"datum":35.9}}},
    {"data":{"values":[{}]},"mark":{"type":"rule","color":"#a8bad3","strokeWidth":1},"encoding":{"x":{"datum":47.8},"y":{"datum":37.2},"y2":{"datum":35.9}}}
   ]},
   {"width":41.67,"height":140,"layer":[
    {"data":{"name":"vio"},"transform":[{"filter":"datum.g === 'PRH WT'"}],"mark":{"type":"area","orient":"horizontal","color":"#b46cb7"},
     "encoding":{"y":{"field":"y","type":"quantitative","scale":{"domain":[-2,60],"nice":false,"zero":false},"axis":{"values":[0,10,20,30,40,50],"grid":true,"gridColor":"#ebebeb","gridWidth":0.8,"ticks":false,"domain":false,"labels":false,"title":null}},
      "x":{"field":"w","type":"quantitative","stack":"center","impute":null,"scale":{"domain":[2.67,44.33],"nice":false,"zero":false},"axis":{"values":[23.5],"grid":true,"gridColor":"#ebebeb","gridWidth":0.8,"labels":false,"ticks":false,"domain":false,"title":["WT","n=84"],"titleFontSize":10.5,"titleFontWeight":"normal","titleColor":"#1a1a1a","titlePadding":1,"titleLineHeight":11}}}},
    {"data":{"name":"box"},"transform":[{"filter":"datum.g === 'PRH WT'"}],"mark":{"type":"rect","fill":"#a6a6a6","stroke":"#d0d0d0","strokeWidth":0.6},"encoding":{"x":{"datum":20.7},"x2":{"datum":26.3},"y":{"field":"q1","type":"quantitative"},"y2":{"field":"q3"}}},
    {"data":{"name":"box"},"transform":[{"filter":"datum.g === 'PRH WT'"}],"mark":{"type":"rule","color":"#e6e6e6","strokeWidth":0.8},"encoding":{"x":{"datum":20.7},"x2":{"datum":26.3},"y":{"field":"med","type":"quantitative"}}}
   ]},
   {"width":41.67,"height":140,"layer":[
    {"data":{"name":"vio"},"transform":[{"filter":"datum.g === 'PRL MUT'"}],"mark":{"type":"area","orient":"horizontal","color":"#e8432c"},
     "encoding":{"y":{"field":"y","type":"quantitative","scale":{"domain":[-2,60],"nice":false,"zero":false},"axis":{"values":[0,10,20,30,40,50],"grid":true,"gridColor":"#ebebeb","gridWidth":0.8,"ticks":false,"domain":false,"labels":false,"title":null}},
      "x":{"field":"w","type":"quantitative","stack":"center","impute":null,"scale":{"domain":[-13.83,27.83],"nice":false,"zero":false},"axis":{"values":[7],"grid":true,"gridColor":"#ebebeb","gridWidth":0.8,"labels":false,"ticks":false,"domain":false,"title":["MUT","n=30"],"titleFontSize":10.5,"titleFontWeight":"normal","titleColor":"#1a1a1a","titlePadding":1,"titleLineHeight":11}}}},
    {"data":{"name":"box"},"transform":[{"filter":"datum.g === 'PRL MUT'"}],"mark":{"type":"rect","fill":"#ffffff","stroke":"#9a9a9a","strokeWidth":0.6},"encoding":{"x":{"datum":4.2},"x2":{"datum":9.8},"y":{"field":"q1","type":"quantitative"},"y2":{"field":"q3"}}},
    {"data":{"name":"box"},"transform":[{"filter":"datum.g === 'PRL MUT'"}],"mark":{"type":"rule","color":"#a0a0a0","strokeWidth":0.8},"encoding":{"x":{"datum":4.2},"x2":{"datum":9.8},"y":{"field":"med","type":"quantitative"}}},
    {"data":{"values":[{}]},"mark":{"type":"text","text":"PRs","fontSize":9.5,"align":"left","baseline":"middle"},"encoding":{"x":{"datum":11.5},"y":{"datum":29.45}}},
    {"data":{"values":[{}]},"mark":{"type":"text","text":"ESR1ᴸᴼᵂ","fontSize":9.5,"align":"left","baseline":"middle"},"encoding":{"x":{"datum":11.5},"y":{"datum":25.24}}}
   ]},
   {"width":41.67,"height":140,"layer":[
    {"data":{"name":"vio"},"transform":[{"filter":"datum.g === 'PRL WT'"}],"mark":{"type":"area","orient":"horizontal","color":"#e8432c"},
     "encoding":{"y":{"field":"y","type":"quantitative","scale":{"domain":[-2,60],"nice":false,"zero":false},"axis":{"values":[0,10,20,30,40,50],"grid":true,"gridColor":"#ebebeb","gridWidth":0.8,"ticks":false,"domain":false,"labels":false,"title":null}},
      "x":{"field":"w","type":"quantitative","stack":"center","impute":null,"scale":{"domain":[-6.83,34.83],"nice":false,"zero":false},"axis":{"values":[14],"grid":true,"gridColor":"#ebebeb","gridWidth":0.8,"labels":false,"ticks":false,"domain":false,"title":["WT","n=22"],"titleFontSize":10.5,"titleFontWeight":"normal","titleColor":"#1a1a1a","titlePadding":1,"titleLineHeight":11}}}},
    {"data":{"name":"box"},"transform":[{"filter":"datum.g === 'PRL WT'"}],"mark":{"type":"rect","fill":"#a6a6a6","stroke":"#d0d0d0","strokeWidth":0.6},"encoding":{"x":{"datum":11.2},"x2":{"datum":16.8},"y":{"field":"q1","type":"quantitative"},"y2":{"field":"q3"}}},
    {"data":{"name":"box"},"transform":[{"filter":"datum.g === 'PRL WT'"}],"mark":{"type":"rule","color":"#e6e6e6","strokeWidth":0.8},"encoding":{"x":{"datum":11.2},"x2":{"datum":16.8},"y":{"field":"med","type":"quantitative"}}}
   ]},
   {"width":72,"height":1,"data":{"values":[{}]},"mark":{"type":"text","text":""},"encoding":{}},
   {"width":89,"height":145.6,
    "layer":[
     {"data":{"name":"pb"},"mark":{"type":"bar"},"encoding":{
       "x":{"field":"key","type":"nominal","scale":{"domain":["LumA GRs","LumA PRs","g1","LumB GRs","LumB PRs","g2","HER2 GRs","HER2 PRs"],"paddingInner":0.1,"paddingOuter":0.29},"axis":null},
       "y":{"field":"v","type":"quantitative","scale":{"domain":[0,50],"nice":false,"range":[145.6,16.6]},"axis":{"values":[0,10,20,30,40,50],"labelAngle":-90,"labelAlign":"center","labelBaseline":"bottom","labelFontSize":10,"labelFont":"Liberation Sans","labelColor":"#333333","tickSize":4,"tickColor":"#888888","domainColor":"#888888","labelPadding":2,"grid":false,"title":"Percent TP53 mutated","titleFont":"Liberation Sans","titleFontSize":9.5,"titleFontWeight":"normal","titleColor":"#222222","titlePadding":10}},
       "color":{"field":"sub","type":"nominal","scale":{"domain":["LumA","LumB","HER2-e"],"range":["#46348d","#a0d4e1","#f5b8c2"]},"legend":null}}},
     {"data":{"name":"pb"},"mark":{"type":"text","angle":270,"align":"right","baseline":"middle","fontSize":8,"font":"Liberation Sans","color":"#222222"},"encoding":{
       "x":{"field":"key","type":"nominal"},"y":{"datum":-1.2},"text":{"field":"grp"}}},
     {"data":{"values":[{}]},"mark":{"type":"text","text":"LumA","fontSize":9.5,"fontWeight":"bold","baseline":"middle","dx":-3.7},"encoding":{"x":{"datum":"LumA PRs","type":"nominal"},"y":{"datum":27.9}}},
     {"data":{"values":[{}]},"mark":{"type":"text","text":"LumB","fontSize":9.5,"fontWeight":"bold","baseline":"middle","dx":-6.7},"encoding":{"x":{"datum":"LumB PRs","type":"nominal"},"y":{"datum":37.2}}},
     {"data":{"values":[{}]},"mark":{"type":"text","text":"HER2-e","fontSize":9.5,"fontWeight":"bold","baseline":"middle","dx":-5.2},"encoding":{"x":{"datum":"HER2 PRs","type":"nominal"},"y":{"datum":58.3}}},
     {"data":{"values":[{}]},"mark":{"type":"text","text":"b","fontSize":14,"fontWeight":"bold","align":"left","baseline":"alphabetic","font":"Liberation Sans","dx":-52.7},"encoding":{"x":{"datum":"LumA GRs","type":"nominal"},"y":{"datum":51.2}}}
    ]},
   {"width":95,"height":1,"data":{"values":[{}]},"mark":{"type":"text","text":""},"encoding":{}},
   {"width":110.5,"height":114.6,
    "layer":[
     {"data":{"name":"pd"},"mark":{"type":"bar"},"encoding":{
       "x":{"field":"key","type":"nominal","scale":{"domain":["GRs --","GRs -+","GRs +-","GRs ++","gap","PR --","PR -+","PR +-","PR ++"],"paddingInner":0.1,"paddingOuter":0.54},"axis":null},
       "y":{"field":"v","type":"quantitative","scale":{"domain":[0,40],"nice":false,"range":[114.6,21.6]},"axis":{"values":[0,10,20,30,40],"labelAngle":-90,"labelAlign":"center","labelBaseline":"bottom","labelFontSize":4.5,"labelColor":"#555555","tickSize":2.5,"tickColor":"#aaaaaa","domainColor":"#bbbbbb","labelPadding":1,"grid":false,"title":"Percent","titleFontSize":12,"titleFontWeight":"normal","titleColor":"#222222","titlePadding":8}},
       "color":{"field":"grp","type":"nominal","scale":{"domain":["GRs","PR ESR1ᴴᴵᴳᴴ"],"range":["#3b8ecb","#5cbb57"]},"legend":null}}},
     {"data":{"name":"pd"},"mark":{"type":"text","fontSize":9,"fontWeight":"bold","baseline":"middle","color":"#222222"},"encoding":{"x":{"field":"key","type":"nominal"},"y":{"datum":-2.8},"text":{"field":"mut"}}},
     {"data":{"name":"pd"},"mark":{"type":"text","fontSize":9,"fontWeight":"bold","baseline":"middle","color":"#222222"},"encoding":{"x":{"field":"key","type":"nominal"},"y":{"datum":-7},"text":{"field":"loss"}}},
     {"data":{"values":[{}]},"mark":{"type":"text","text":"TP53 MUT","fontSize":8.5,"fontWeight":"bold","align":"right","baseline":"middle","dx":-7,"color":"#222222"},"encoding":{"x":{"datum":"GRs --","type":"nominal"},"y":{"datum":-2.8}}},
     {"data":{"values":[{}]},"mark":{"type":"text","text":"TP53 Loss","fontSize":8.5,"fontWeight":"bold","align":"right","baseline":"middle","dx":-7,"color":"#222222"},"encoding":{"x":{"datum":"GRs --","type":"nominal"},"y":{"datum":-7}}},
     {"data":{"values":[{}]},"mark":{"type":"text","text":"GRs","fontSize":9,"fontWeight":"bold","baseline":"middle","dx":5.5,"color":"#222222"},"encoding":{"x":{"datum":"GRs -+","type":"nominal"},"y":{"datum":-13.3}}},
     {"data":{"values":[{}]},"mark":{"type":"text","text":"PR ESR1ᴴᴵᴳᴴ","fontSize":9,"fontWeight":"bold","baseline":"middle","dx":5,"color":"#222222"},"encoding":{"x":{"datum":"PR -+","type":"nominal"},"y":{"datum":-13.3}}},
     {"data":{"values":[{}]},"mark":{"type":"text","text":"d","fontSize":14,"fontWeight":"bold","align":"left","baseline":"alphabetic","font":"Liberation Sans","dx":-51},"encoding":{"x":{"datum":"GRs --","type":"nominal"},"y":{"datum":42.2}}}
    ]}
],
"spacing":0,"bounds":"flush",
"resolve":{"scale":{"color":"independent"},"legend":{"color":"independent"}}
},
{
"hconcat":[
 {"width":53,"height":1,"data":{"values":[{}]},"mark":{"type":"text","text":""},"encoding":{}},
 {
 "vconcat":[
   {"width":475.7,"height":60,"view":{"stroke":"#6e6e6e","strokeWidth":1},
    "layer":[
     {"data":{"name":"gain"},"mark":{"type":"line","strokeWidth":0.9,"opacity":0.85},"encoding":{
       "x":{"field":"x","type":"quantitative","scale":{"domain":[0,23],"nice":false,"zero":false},"axis":{"values":[1,2,3,4,5,6,7,8,9,10,11,12,13,14,15,16,17,18,19,20,21,22],"grid":true,"gridColor":"#6e6e6e","gridWidth":1,"labels":false,"ticks":false,"domain":false,"title":null}},
       "y":{"field":"p","type":"quantitative","scale":{"domain":[-3,84],"nice":false,"zero":false},"axis":{"orient":"left","values":[0,25,50,75],"labelFontSize":4.5,"labelColor":"#333333","tickSize":2,"tickColor":"#666666","labelPadding":1,"domain":false,"grid":false,"title":"% with Gain","titleFontSize":10,"titleFontWeight":"bold","titleColor":"#000000","titlePadding":7}},
       "detail":{"field":"c","type":"nominal"},
       "color":{"datum":"PR ESR1ᴴᴵᴳᴴ","scale":{"domain":["GRs","PR ESR1ᴴᴵᴳᴴ","Sig (FDR < 0.05)"],"range":["#4e9ad6","#c27bc6","#000000"]},
        "legend":{"orient":"none","legendX":497,"legendY":68,"title":null,"symbolType":"stroke","symbolSize":110,"symbolStrokeWidth":1.8,"labelFontSize":7,"labelColor":"#222222","rowPadding":0,"labelOffset":4,
          "encode":{"symbols":{"update":{"strokeWidth":{"signal":"datum.value === 'Sig (FDR < 0.05)' ? 5 : 1.8"}}}}}}}},
     {"data":{"name":"strip"},"mark":{"type":"rect","color":"#d6d6d6"},"encoding":{"x":{"field":"s","type":"quantitative"},"x2":{"field":"e"},"y":{"datum":-3,"axis":null},"y2":{"datum":84}}},
     {"data":{"name":"gain"},"mark":{"type":"line","strokeWidth":0.9,"opacity":0.85},"encoding":{
       "x":{"field":"x","type":"quantitative"},
       "y":{"field":"g","type":"quantitative","axis":{"orient":"right","values":[0,25,50,75],"labelFontSize":4.5,"labelColor":"#333333","tickSize":2,"tickColor":"#666666","labelPadding":1,"domain":false,"grid":false,"title":null}},
       "detail":{"field":"c","type":"nominal"},
       "color":{"datum":"GRs"}}},
     {"data":{"name":"sig"},"mark":{"type":"rect"},"encoding":{
       "x":{"field":"s","type":"quantitative"},"x2":{"field":"e"},
       "y":{"datum":-3,"axis":null},"y2":{"datum":1.5},
       "color":{"datum":"Sig (FDR < 0.05)"}}},
     {"data":{"values":[{}]},"mark":{"type":"text","text":"c","fontSize":14,"fontWeight":"bold","align":"left","baseline":"alphabetic","font":"Liberation Sans"},"encoding":{"x":{"datum":-0.92},"y":{"datum":133,"axis":null}}}
    ],
    "resolve":{"axis":{"y":"independent"}}
   },
   {"width":1,"height":4,"data":{"values":[{}]},"mark":{"type":"text","text":""},"encoding":{}},
   {"width":475.7,"height":28,"view":{"stroke":"#6e6e6e","strokeWidth":1},
    "layer":[
     {"data":{"values":[{}]},"mark":{"type":"rule","color":"#b3b3b3","strokeWidth":1.5},"encoding":{
       "y":{"datum":0,"scale":{"domain":[-30,30],"nice":false,"zero":false},"axis":{"orient":"right","values":[-25,0,25],"labelFontSize":4.5,"labelColor":"#333333","tickSize":2,"tickColor":"#666666","labelPadding":1,"domain":false,"grid":false,"title":null}}}},
     {"data":{"name":"diff"},"mark":{"type":"line","strokeWidth":0.9,"color":"#3f5eb5"},"encoding":{
       "x":{"field":"x","type":"quantitative","scale":{"domain":[0,23],"nice":false,"zero":false},"axis":{"values":[1,2,3,4,5,6,7,8,9,10,11,12,13,14,15,16,17,18,19,20,21,22],"grid":true,"gridColor":"#6e6e6e","gridWidth":1,"labels":false,"ticks":false,"domain":false,"title":null}},
       "y":{"field":"d1","type":"quantitative","axis":{"orient":"left","values":[-25,0,25],"labelFontSize":4.5,"labelColor":"#333333","tickSize":2,"tickColor":"#666666","labelPadding":1,"domain":false,"grid":false,"title":"% diff","titleAngle":0,"titleAlign":"right","titleBaseline":"middle","titleX":-13,"titleY":14,"titleFontSize":10,"titleFontWeight":"bold","titleColor":"#000000"}},
       "detail":{"field":"c","type":"nominal"}}},
     {"data":{"name":"strip"},"mark":{"type":"rect","color":"#d6d6d6"},"encoding":{"x":{"field":"s","type":"quantitative"},"x2":{"field":"e"},"y":{"datum":-30,"axis":null},"y2":{"datum":30}}},
     {"data":{"name":"chroms"},"mark":{"type":"text","fontSize":4.3,"fontWeight":"bold","color":"#333333","baseline":"middle"},"encoding":{
       "x":{"field":"mid","type":"quantitative"},"y":{"datum":-42.8,"axis":null},"text":{"field":"chr"}}}
    ],
    "resolve":{"axis":{"y":"independent"}}
   },
   {"width":1,"height":10,"data":{"values":[{}]},"mark":{"type":"text","text":""},"encoding":{}},
   {"width":475.7,"height":60,"view":{"stroke":"#6e6e6e","strokeWidth":1},
    "layer":[
     {"data":{"name":"loss"},"mark":{"type":"line","strokeWidth":0.9,"opacity":0.85,"color":"#c27bc6"},"encoding":{
       "x":{"field":"x","type":"quantitative","scale":{"domain":[0,23],"nice":false,"zero":false},"axis":{"values":[1,2,3,4,5,6,7,8,9,10,11,12,13,14,15,16,17,18,19,20,21,22],"grid":true,"gridColor":"#6e6e6e","gridWidth":1,"labels":false,"ticks":false,"domain":false,"title":null}},
       "y":{"field":"p","type":"quantitative","scale":{"domain":[-6,80],"nice":false,"zero":false,"reverse":true},"axis":{"orient":"left","values":[0,25,50,75],"labelFontSize":4.5,"labelColor":"#333333","tickSize":2,"tickColor":"#666666","labelPadding":1,"domain":false,"grid":false,"title":"% with Loss","titleFontSize":10,"titleFontWeight":"bold","titleColor":"#000000","titlePadding":7}},
       "detail":{"field":"c","type":"nominal"}}},
     {"data":{"name":"strip"},"mark":{"type":"rect","color":"#d6d6d6"},"encoding":{"x":{"field":"s","type":"quantitative"},"x2":{"field":"e"},"y":{"datum":-6,"axis":null},"y2":{"datum":80}}},
     {"data":{"name":"loss"},"mark":{"type":"line","strokeWidth":0.9,"opacity":0.85,"color":"#4e9ad6"},"encoding":{
       "x":{"field":"x","type":"quantitative"},
       "y":{"field":"g","type":"quantitative","axis":{"orient":"right","values":[0,25,50,75],"labelFontSize":4.5,"labelColor":"#333333","tickSize":2,"tickColor":"#666666","labelPadding":1,"domain":false,"grid":false,"title":null}},
       "detail":{"field":"c","type":"nominal"}}}
    ],
    "resolve":{"axis":{"y":"independent"}}
   },
   {"width":1,"height":4,"data":{"values":[{}]},"mark":{"type":"text","text":""},"encoding":{}},
   {"width":475.7,"height":28,"view":{"stroke":"#6e6e6e","strokeWidth":1},
    "layer":[
     {"data":{"values":[{}]},"mark":{"type":"rule","color":"#b3b3b3","strokeWidth":1.5},"encoding":{
       "y":{"datum":0,"scale":{"domain":[-30,30],"nice":false,"zero":false},"axis":{"orient":"right","values":[-25,0,25],"labelFontSize":4.5,"labelColor":"#333333","tickSize":2,"tickColor":"#666666","labelPadding":1,"domain":false,"grid":false,"title":null}}}},
     {"data":{"name":"diff"},"mark":{"type":"line","strokeWidth":0.9,"color":"#3f5eb5"},"encoding":{
       "x":{"field":"x","type":"quantitative","scale":{"domain":[0,23],"nice":false,"zero":false},"axis":{"values":[1,2,3,4,5,6,7,8,9,10,11,12,13,14,15,16,17,18,19,20,21,22],"grid":true,"gridColor":"#6e6e6e","gridWidth":1,"labels":false,"ticks":false,"domain":false,"title":null}},
       "y":{"field":"d2","type":"quantitative","axis":{"orient":"left","values":[-25,0,25],"labelFontSize":4.5,"labelColor":"#333333","tickSize":2,"tickColor":"#666666","labelPadding":1,"domain":false,"grid":false,"title":"% diff","titleAngle":0,"titleAlign":"right","titleBaseline":"middle","titleX":-13,"titleY":14,"titleFontSize":10,"titleFontWeight":"bold","titleColor":"#000000"}},
       "detail":{"field":"c","type":"nominal"}}},
     {"data":{"name":"strip"},"mark":{"type":"rect","color":"#d6d6d6"},"encoding":{"x":{"field":"s","type":"quantitative"},"x2":{"field":"e"},"y":{"datum":-30,"axis":null},"y2":{"datum":30}}}
    ],
    "resolve":{"axis":{"y":"independent"}}
   }
 ],
 "spacing":0,"bounds":"flush",
 "resolve":{"scale":{"color":"independent"},"legend":{"color":"independent"}}
 }
],
"spacing":0,
"resolve":{"scale":{"color":"independent"},"legend":{"color":"independent"}}
}
]
}
